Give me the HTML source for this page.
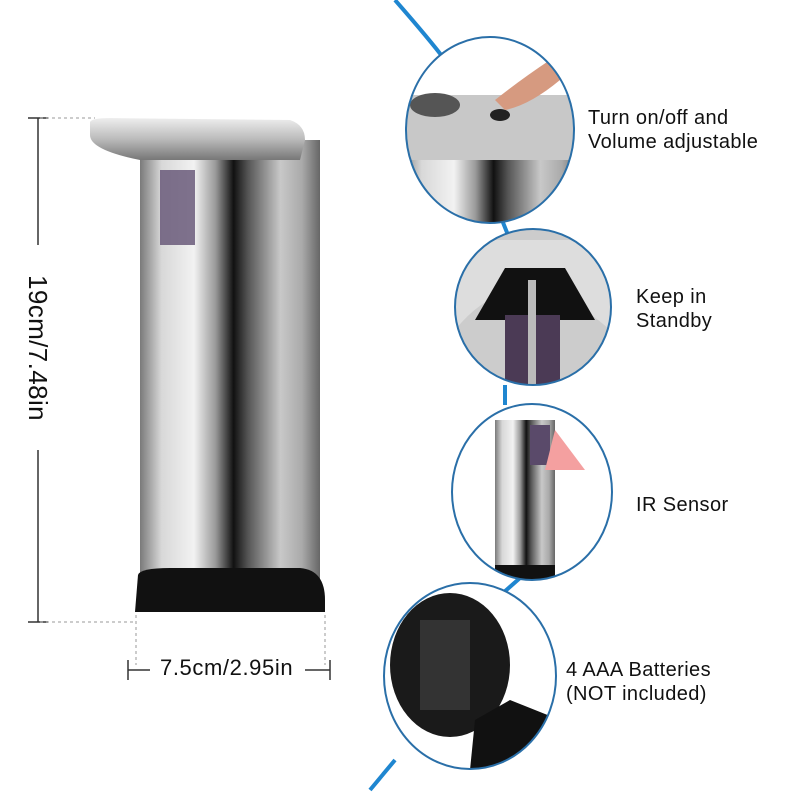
<!DOCTYPE html>
<html><head><style>
body{margin:0;background:#fff;width:800px;height:800px;overflow:hidden;position:relative;font-family:"Liberation Sans",sans-serif}
.t{position:absolute;font-size:20px;color:#111;line-height:24px;letter-spacing:0.4px;white-space:nowrap}
</style></head><body>
<svg width="800" height="800" style="position:absolute;left:0;top:0">
<defs>
<linearGradient id="steel" x1="0" x2="1">
<stop offset="0" stop-color="#7a7a7a"/><stop offset="0.12" stop-color="#d8d8d8"/><stop offset="0.3" stop-color="#f2f2f2"/><stop offset="0.42" stop-color="#999"/><stop offset="0.52" stop-color="#111"/><stop offset="0.6" stop-color="#555"/><stop offset="0.78" stop-color="#c8c8c8"/><stop offset="0.9" stop-color="#aaa"/><stop offset="1" stop-color="#666"/>
</linearGradient>
<linearGradient id="head" x1="0" y1="0" x2="0" y2="1"><stop offset="0" stop-color="#eee"/><stop offset="0.5" stop-color="#bbb"/><stop offset="1" stop-color="#777"/></linearGradient>
<clipPath id="c1"><ellipse cx="490" cy="130" rx="84" ry="93"/></clipPath>
<clipPath id="c2"><ellipse cx="533" cy="307" rx="78" ry="78"/></clipPath>
<clipPath id="c3"><ellipse cx="532" cy="492" rx="80" ry="88"/></clipPath>
<clipPath id="c4"><ellipse cx="470" cy="676" rx="86" ry="93"/></clipPath>
</defs>
<g stroke="#333" stroke-width="1.5">
<line x1="38" y1="118" x2="38" y2="245"/><line x1="38" y1="450" x2="38" y2="622"/>
<line x1="28" y1="118" x2="48" y2="118"/><line x1="28" y1="622" x2="48" y2="622"/>
<line x1="128" y1="670" x2="150" y2="670"/><line x1="305" y1="670" x2="330" y2="670"/>
<line x1="128" y1="660" x2="128" y2="680"/><line x1="330" y1="660" x2="330" y2="680"/>
</g>
<g stroke="#999" stroke-width="1" stroke-dasharray="3,3">
<line x1="40" y1="118" x2="95" y2="118"/><line x1="40" y1="622" x2="135" y2="622"/>
<line x1="136" y1="615" x2="136" y2="665"/><line x1="325" y1="615" x2="325" y2="665"/>
</g>
<rect x="140" y="140" width="180" height="440" fill="url(#steel)"/>
<path d="M90 122 Q92 118 110 118 L290 120 Q305 125 305 140 L300 160 L140 160 Q90 150 90 135Z" fill="url(#head)"/>
<rect x="160" y="170" width="35" height="75" fill="#6a5a7a" opacity="0.85"/>
<path d="M138 575 Q140 568 170 568 L300 568 Q325 570 325 600 L325 612 L135 612 Z" fill="#111"/>
<path d="M395 0 Q430 40 445 60 M500 215 L510 240 M505 385 L505 405 M520 578 L495 600 M395 760 L370 790" stroke="#1f86d0" stroke-width="4" fill="none"/>
<g clip-path="url(#c1)"><rect x="400" y="30" width="180" height="200" fill="#fff"/><path d="M400 95 L575 95 L575 160 L400 160Z" fill="#c8c8c8"/><rect x="400" y="160" width="180" height="70" fill="url(#steel)"/><ellipse cx="435" cy="105" rx="25" ry="12" fill="#555"/><ellipse cx="500" cy="115" rx="10" ry="6" fill="#222"/><path d="M495 100 Q520 80 550 60 L560 80 Q530 105 505 110Z" fill="#d69a80"/></g>
<ellipse cx="490" cy="130" rx="84" ry="93" fill="none" stroke="#2a6fa8" stroke-width="2"/>
<g clip-path="url(#c2)"><rect x="450" y="225" width="170" height="170" fill="#ccc"/><path d="M455 330 Q520 250 610 330 L610 240 L455 240Z" fill="#ddd"/><path d="M475 320 L505 268 L565 268 L595 320Z" fill="#111"/><rect x="505" y="315" width="55" height="80" fill="#4b3a55"/><rect x="528" y="280" width="8" height="110" fill="#bbb"/></g>
<ellipse cx="533" cy="307" rx="78" ry="78" fill="none" stroke="#2a6fa8" stroke-width="2"/>
<g clip-path="url(#c3)"><rect x="450" y="400" width="170" height="190" fill="#fff"/><rect x="495" y="420" width="60" height="160" fill="url(#steel)"/><rect x="530" y="425" width="20" height="40" fill="#5a4a6a"/><path d="M555 430 L585 470 L545 470Z" fill="#f4a0a0"/><rect x="495" y="565" width="60" height="15" fill="#111"/></g>
<ellipse cx="532" cy="492" rx="80" ry="88" fill="none" stroke="#2a6fa8" stroke-width="2"/>
<g clip-path="url(#c4)"><rect x="380" y="580" width="180" height="190" fill="#fff"/><ellipse cx="450" cy="665" rx="60" ry="72" fill="#1a1a1a"/><rect x="420" y="620" width="50" height="90" fill="#333"/><path d="M475 720 L510 700 L560 720 L560 770 L470 770Z" fill="#111"/></g>
<ellipse cx="470" cy="676" rx="86" ry="93" fill="none" stroke="#2a6fa8" stroke-width="2"/>
</svg>
<div class="t" style="left:-62px;top:333px;width:200px;text-align:center;font-size:26px;line-height:30px;transform:rotate(90deg)">19cm/7.48in</div>
<div class="t" style="left:160px;top:656px;font-size:22px;letter-spacing:0.6px">7.5cm/2.95in</div>
<div class="t" style="left:588px;top:106px">Turn on/off and<br>Volume adjustable</div>
<div class="t" style="left:636px;top:285px">Keep in<br>Standby</div>
<div class="t" style="left:636px;top:493px">IR Sensor</div>
<div class="t" style="left:566px;top:658px">4 AAA Batteries<br>(NOT included)</div>
</body></html>
